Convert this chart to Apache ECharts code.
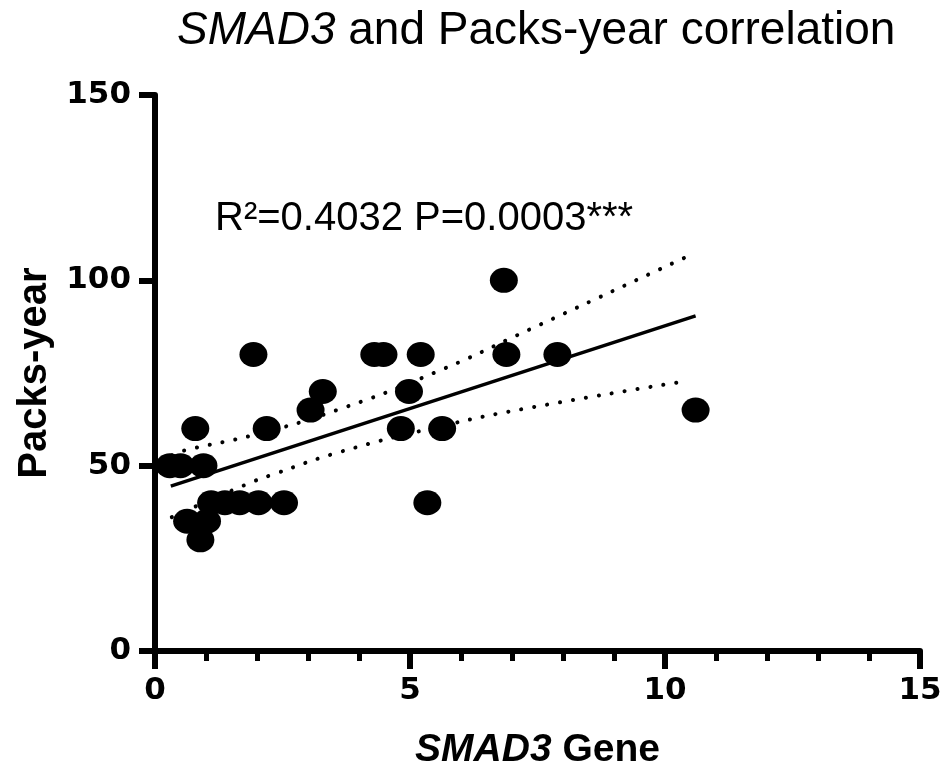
<!DOCTYPE html>
<html>
<head>
<meta charset="utf-8">
<script src="https://cdn.jsdelivr.net/npm/echarts@6/dist/echarts.min.js"></script>
<style>
  html, body { margin: 0; padding: 0; background: #fff; }
  #chart { width: 943px; height: 767px; }
</style>
</head>
<body>
<div id="chart"></div>
<script>
// SMAD3 gene expression vs packs-year
var geneX  = [0.29, 0.5, 0.95, 0.79, 0.63, 1.02, 0.89, 1.1, 1.37, 1.66, 2.03, 2.53, 1.93, 2.19,
              3.05, 3.29, 4.3, 4.48, 5.21, 4.98, 4.82, 5.63, 5.34, 6.84, 6.89, 7.89, 10.6];
var packsY = [50, 50, 50, 60, 35, 35, 30, 40, 40, 40, 40, 40, 80, 60,
              65, 70, 80, 80, 80, 70, 60, 60, 40, 100, 80, 80, 65];

// regression line ends
var fitX = [0.31, 10.6];
var fitY = [44.5, 90.4];

// 95% confidence bands
var upperX = [0.33, 0.55, 2.0, 3.57, 5.5, 7.37, 10.4];
var upperY = [52.8, 54.0, 58.5, 65.0, 75.2, 86.9, 106.2];
var lowerX = [0.33, 1.8, 2.33, 3.63, 5.5, 7.22, 10.37];
var lowerY = [36.1, 45.0, 47.7, 53.7, 60.3, 65.3, 72.7];

var xTicks = [0, 5, 10, 15];
var yTicks = [0, 50, 100, 150];

function pairs(xs, ys) {
    var out = [];
    xs.forEach((x, i) => { out.push([x, ys[i]]); });
    return out;
}

var chart = echarts.init(document.getElementById('chart'));

var titleFont = '"Liberation Sans", Arial, sans-serif';
var tickFont = '"DejaVu Sans", sans-serif';

var option = {
    animation: false,
    backgroundColor: '#fff',
    title: {
        text: '{i|SMAD3}{n| and Packs-year correlation}',
        left: 172,
        top: 3,
        textStyle: {
            rich: {
                i: { fontFamily: titleFont, fontSize: 46, fontWeight: 'normal', fontStyle: 'italic', color: '#000' },
                n: { fontFamily: titleFont, fontSize: 46, fontWeight: 'normal', color: '#000' }
            }
        }
    },
    graphic: [{
        type: 'text',
        left: 215,
        top: 199,
        style: {
            text: 'R²=0.4032 P=0.0003***',
            font: '40px "Liberation Sans", Arial, sans-serif',
            fill: '#000'
        }
    }],
    grid: {
        left: 155,
        right: 23,
        top: 95,
        bottom: 116,
        outerBoundsMode: 'none'
    },
    xAxis: {
        type: 'value',
        min: xTicks[0],
        max: xTicks[xTicks.length - 1],
        interval: 5,
        name: '{i|SMAD3}{n| Gene}',
        nameLocation: 'middle',
        nameGap: 80,
        nameTextStyle: {
            rich: {
                i: { fontFamily: titleFont, fontSize: 39, fontWeight: 'bold', fontStyle: 'italic', color: '#000' },
                n: { fontFamily: titleFont, fontSize: 39, fontWeight: 'bold', color: '#000' }
            }
        },
        axisLine: { show: true, lineStyle: { color: '#000', width: 6 } },
        axisTick: { show: true, length: 18, lineStyle: { color: '#000', width: 6 } },
        minorTick: { show: true, splitNumber: 5, length: 10, lineStyle: { color: '#000', width: 5 } },
        axisLabel: {
            margin: 24,
            color: '#000',
            fontFamily: tickFont,
            fontWeight: 'bold',
            fontSize: 31
        },
        splitLine: { show: false }
    },
    yAxis: {
        type: 'value',
        min: yTicks[0],
        max: yTicks[yTicks.length - 1],
        interval: 50,
        name: 'Packs-year',
        nameLocation: 'middle',
        nameGap: 100,
        nameTextStyle: {
            fontFamily: titleFont,
            fontSize: 40,
            fontWeight: 'bold',
            color: '#000'
        },
        axisLine: { show: true, lineStyle: { color: '#000', width: 6 } },
        axisTick: { show: true, length: 16, lineStyle: { color: '#000', width: 6 } },
        axisLabel: {
            margin: 24,
            color: '#000',
            fontFamily: tickFont,
            fontWeight: 'bold',
            fontSize: 31
        },
        splitLine: { show: false }
    },
    series: [
        {
            type: 'line',
            data: pairs(upperX, upperY),
            smooth: true,
            symbol: 'none',
            silent: true,
            lineStyle: { color: '#000', width: 4, type: [0.1, 13], cap: 'round' },
            z: 2
        },
        {
            type: 'line',
            data: pairs(lowerX, lowerY),
            smooth: true,
            symbol: 'none',
            silent: true,
            lineStyle: { color: '#000', width: 4, type: [0.1, 13], cap: 'round' },
            z: 2
        },
        {
            type: 'line',
            data: pairs(fitX, fitY),
            symbol: 'none',
            silent: true,
            lineStyle: { color: '#000', width: 3.5 },
            z: 3
        },
        {
            type: 'scatter',
            data: pairs(geneX, packsY),
            symbol: 'circle',
            symbolSize: [28, 25],
            itemStyle: { color: '#000', opacity: 1 },
            z: 4
        }
    ]
};

chart.setOption(option);
</script>
</body>
</html>
